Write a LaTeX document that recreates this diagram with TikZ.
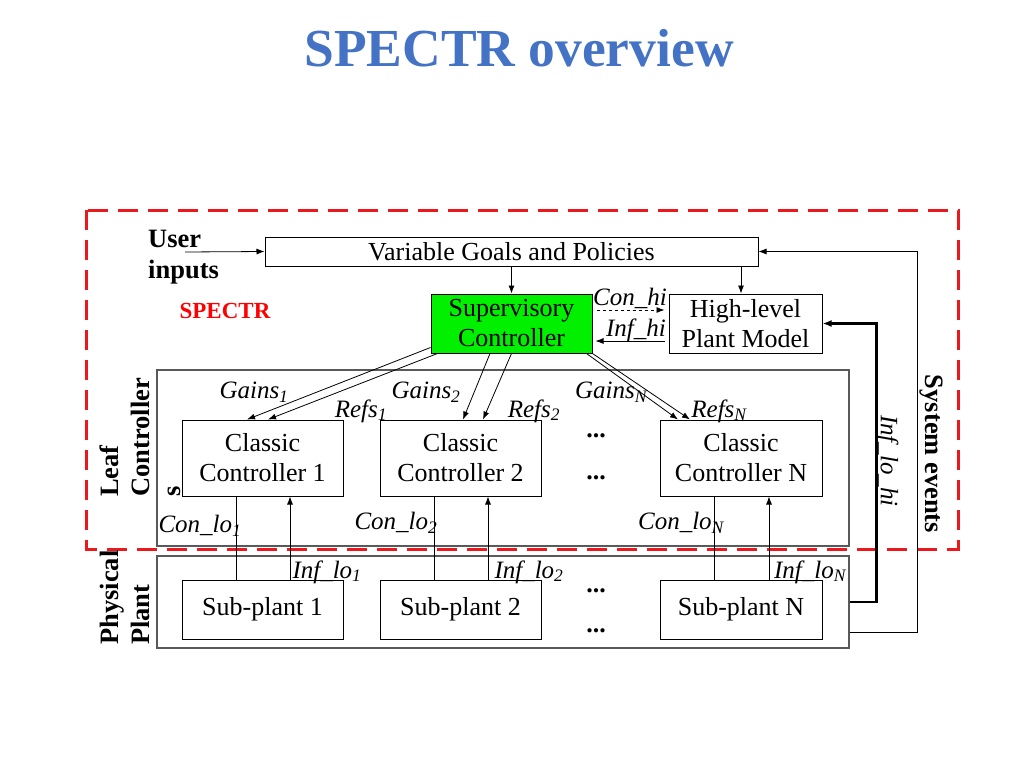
\documentclass[tikz,border=0pt]{standalone}
\usepackage{fontspec}
\setmainfont{Liberation Serif}
\usetikzlibrary{arrows.meta}
\definecolor{titleblue}{RGB}{68,114,196}
\definecolor{dashred}{RGB}{235,25,30}
\definecolor{supgreen}{RGB}{0,240,0}
\tikzset{
  box/.style={draw, line width=1pt, inner sep=0pt, align=center, font=\fontsize{26}{30}\selectfont},
  grp/.style={draw=black!65, line width=1.2pt, inner sep=0pt},
  arr/.style={-{Latex[length=8pt,width=6pt]}, line width=0.8pt},
  lbl/.style={font=\fontsize{25}{28}\selectfont\itshape, inner sep=0pt},
  side/.style={font=\fontsize{26.5}{31}\selectfont\bfseries, inner sep=0pt, align=left},
  dots/.style={font=\fontsize{26}{28}\selectfont\bfseries, inner sep=0pt}
}
\begin{document}
\begin{tikzpicture}[x=1pt,y=-1pt]
  \useasboundingbox (0,0) rectangle (1024,768);

  %%%%% TITLE %%%%%
  \node[text=titleblue, font=\fontsize{53.5}{58}\selectfont\bfseries] (title) at (519,48) {SPECTR overview};

  %%%%% SPECTR BORDER %%%%%
  \draw[dashred, line width=3pt, dash pattern=on 20pt off 10pt] (86,210) rectangle (958,549);

  %%%%% GROUPS %%%%%
  \node[grp, minimum width=692pt, minimum height=176pt] (leafgrp) at (503,458) {};
  \node[grp, minimum width=692pt, minimum height=92pt] (plantgrp) at (503,602) {};

  %%%%% TOP LEVEL %%%%%
  \node[box, minimum width=493pt, minimum height=29pt] (goals) at (511.5,251.5) {Variable Goals and Policies};
  \node[box, fill=supgreen, minimum width=161pt, minimum height=59pt] (sup) at (511.5,323.5) {Supervisory\\Controller};
  \node[box, minimum width=153pt, minimum height=59pt] (hlm) at (745.5,323.5) {High-level\\Plant Model};

  %%%%% LEAF CONTROLLERS %%%%%
  \node[box, minimum width=161pt, minimum height=76pt] (ctrl1) at (262.5,458) {Classic\\Controller 1};
  \node[box, minimum width=161pt, minimum height=76pt] (ctrl2) at (460.5,458) {Classic\\Controller 2};
  \node[box, minimum width=162pt, minimum height=76pt] (ctrlN) at (741,458) {Classic\\Controller N};

  %%%%% SUB-PLANTS %%%%%
  \node[box, minimum width=161pt, minimum height=59pt] (plant1) at (262.5,609.5) {Sub-plant 1};
  \node[box, minimum width=161pt, minimum height=59pt] (plant2) at (460.5,609.5) {Sub-plant 2};
  \node[box, minimum width=162pt, minimum height=59pt] (plantN) at (741,609.5) {Sub-plant N};

  %%%%% SIDE TEXTS %%%%%
  \node[side, anchor=north west] (user) at (148,230) {User\\inputs};
  \node[text=red, font=\fontsize{23}{25}\selectfont\bfseries] (spectr) at (225,311) {SPECTR};
  \node[side, rotate=90, anchor=north west] (leaflbl) at (100,497) {Leaf\\Controller\\s};
  \node[side, rotate=90, anchor=north west] (physlbl) at (100,645) {Physical\\Plant};
  \node[side, rotate=-90] (sysev) at (931,454) {System events};
  \node[lbl, rotate=-90] (lohilbl) at (887,461) {Inf\_lo\_hi};

  %%%%% DOTS %%%%%
  \node[dots] (dots1) at (596,436) {...};
  \node[dots] (dots2) at (596,478) {...};
  \node[dots] (dots3) at (596,591) {...};
  \node[dots] (dots4) at (596,631) {...};

  %%%%% CONNECTORS %%%%%
  \coordinate (usrin) at (185,252);
  \draw[arr] (usrin) -- (goals.west);
  \draw[arr] (goals.south) -- (sup.north);
  \draw[arr] ([xshift=-4.5pt]hlm.north |- goals.south) -- ([xshift=-4.5pt]hlm.north);

  \draw[arr, dashed] ([xshift=4pt,yshift=13.5pt]sup.east) -- ([xshift=-4pt,yshift=13.5pt]hlm.west);
  \draw[arr] ([xshift=-4pt,yshift=-17.5pt]hlm.west) -- ([xshift=3pt,yshift=-17.5pt]sup.east);
  \node[lbl] (conhi) at (630,298) {Con\_hi};
  \node[lbl] (infhi) at (636,330) {Inf\_hi};

  \draw[arr, line width=2.5pt, -{Latex[length=9pt,width=7pt]}] (plantgrp.east) -- ++(27,0) |- (hlm.east);
  \draw[arr] ([yshift=-30pt]plantgrp.east) -- ++(68,0) |- (goals.east);

  \draw[arr] ([yshift=6pt]sup.south west) -- ([xshift=-15.5pt]ctrl1.north);
  \draw[arr] ([xshift=7pt]sup.south west) -- ([xshift=5.5pt]ctrl1.north);
  \draw[arr] ([xshift=-21.5pt]sup.south) -- ([xshift=2.5pt]ctrl2.north);
  \draw[arr] (sup.south) -- ([xshift=22.5pt]ctrl2.north);
  \draw[arr] ([xshift=-6pt]sup.south east) -- ([xshift=-63pt]ctrlN.north);
  \draw[arr] (sup.south east) -- ([xshift=-51pt]ctrlN.north);

  \node[lbl] (gains1) at (254,392) {Gains\textsubscript{1}};
  \node[lbl] (refs1) at (361,411) {Refs\textsubscript{1}};
  \node[lbl] (gains2) at (426,392) {Gains\textsubscript{2}};
  \node[lbl] (refs2) at (534,411) {Refs\textsubscript{2}};
  \node[lbl] (gainsN) at (611,392) {Gains\textsubscript{N}};
  \node[lbl] (refsN) at (719,411) {Refs\textsubscript{N}};

  \draw[line width=0.8pt] ([xshift=-26.5pt]ctrl1.south) -- ([xshift=-26.5pt]plant1.north);
  \draw[arr] ([xshift=27.5pt]plant1.north) -- ([xshift=27.5pt]ctrl1.south);
  \draw[line width=0.8pt] ([xshift=-26.5pt]ctrl2.south) -- ([xshift=-26.5pt]plant2.north);
  \draw[arr] ([xshift=27.5pt]plant2.north) -- ([xshift=27.5pt]ctrl2.south);
  \draw[line width=0.8pt] ([xshift=-27pt]ctrlN.south) -- ([xshift=-27pt]plantN.north);
  \draw[arr] ([xshift=28pt]plantN.north) -- ([xshift=28pt]ctrlN.south);

  \node[lbl] (conlo1) at (200,526) {Con\_lo\textsubscript{1}};
  \node[lbl] (conlo2) at (396,523) {Con\_lo\textsubscript{2}};
  \node[lbl] (conloN) at (681,523) {Con\_lo\textsubscript{N}};
  \node[lbl] (inflo1) at (327,572) {Inf\_lo\textsubscript{1}};
  \node[lbl] (inflo2) at (529,572) {Inf\_lo\textsubscript{2}};
  \node[lbl] (infloN) at (810,572) {Inf\_lo\textsubscript{N}};
\end{tikzpicture}
\end{document}
